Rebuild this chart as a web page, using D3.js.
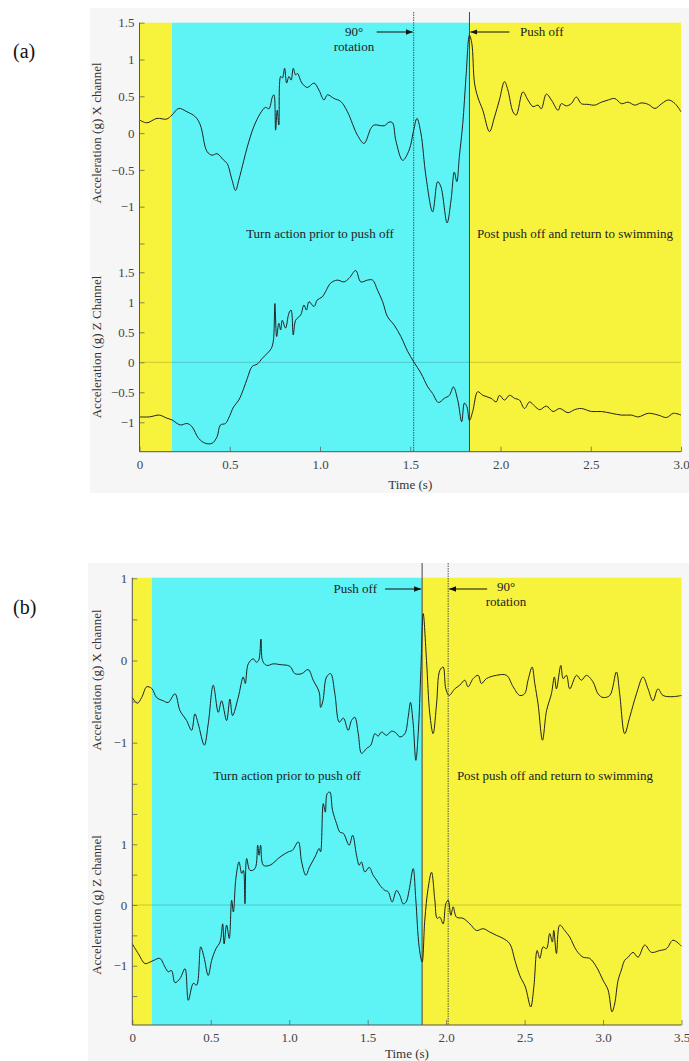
<!DOCTYPE html>
<html lang="en">
<head>
<meta charset="utf-8">
<title>Turn and push off acceleration</title>
<script src="https://cdn.jsdelivr.net/npm/d3@7"></script>
<style>
  body { margin: 0; background: #fff; }
  svg text { font-family: "Liberation Serif", "Times New Roman", Times, "DejaVu Serif", serif; fill: #333; }
  .axis path { display: none; }
  .axis line { stroke: #666; stroke-width: 0.8px; }
  .axis text { font-size: 13px; fill: #444; }
  .trace { fill: none; stroke: #222; stroke-width: 1px; stroke-linejoin: round; }
</style>
</head>
<body>
<svg id="vis" width="689" height="1061"></svg>
<script>
// ---- data: (a) ----
var aXt = [0, 0.04, 0.097, 0.15, 0.18, 0.217, 0.263, 0.31, 0.337, 0.374, 0.402, 0.43, 0.467, 0.485, 0.513, 0.532, 0.55, 0.578, 0.597, 0.633, 0.67, 0.698, 0.717, 0.736, 0.745, 0.754, 0.763, 0.772, 0.782, 0.792, 0.804, 0.815, 0.828, 0.84, 0.852, 0.865, 0.875, 0.9, 0.93, 0.967, 0.994, 1.022, 1.041, 1.078, 1.115, 1.152, 1.208, 1.244, 1.282, 1.3, 1.356, 1.383, 1.402, 1.42, 1.458, 1.494, 1.519, 1.537, 1.559, 1.587, 1.624, 1.652, 1.67, 1.704, 1.726, 1.744, 1.758, 1.772, 1.791, 1.809, 1.828, 1.841, 1.856, 1.874, 1.902, 1.939, 1.967, 1.994, 2.022, 2.041, 2.069, 2.087, 2.124, 2.152, 2.18, 2.208, 2.226, 2.254, 2.282, 2.319, 2.337, 2.365, 2.392, 2.42, 2.448, 2.485, 2.522, 2.559, 2.597, 2.633, 2.67, 2.707, 2.744, 2.78, 2.819, 2.856, 2.893, 2.93, 2.967, 3.0];
var aXv = [0.18, 0.14, 0.2, 0.19, 0.245, 0.335, 0.29, 0.22, 0.11, -0.25, -0.3, -0.28, -0.37, -0.41, -0.64, -0.78, -0.64, -0.37, -0.19, 0.086, 0.27, 0.35, 0.33, 0.49, 0.52, 0.04, 0.31, 0.11, 0.77, 0.75, 0.88, 0.68, 0.77, 0.72, 0.88, 0.79, 0.81, 0.68, 0.62, 0.68, 0.585, 0.45, 0.52, 0.47, 0.43, 0.29, -0.03, -0.14, 0.065, 0.11, 0.1, 0.15, 0.14, -0.1, -0.37, -0.23, 0.04, 0.2, 0, -0.59, -1.07, -0.66, -0.73, -1.22, -0.91, -0.53, -0.66, -0.32, 0.13, 0.77, 1.33, 1.22, 0.68, 0.49, 0.31, 0.02, 0.22, 0.45, 0.7, 0.585, 0.29, 0.245, 0.56, 0.45, 0.36, 0.38, 0.33, 0.53, 0.45, 0.31, 0.4, 0.37, 0.4, 0.49, 0.4, 0.39, 0.38, 0.42, 0.45, 0.47, 0.4, 0.42, 0.38, 0.41, 0.39, 0.335, 0.4, 0.45, 0.4, 0.29];
var aZt = [0, 0.055, 0.11, 0.15, 0.18, 0.226, 0.263, 0.29, 0.328, 0.365, 0.402, 0.43, 0.448, 0.476, 0.494, 0.522, 0.55, 0.578, 0.597, 0.624, 0.652, 0.68, 0.708, 0.73, 0.742, 0.75, 0.76, 0.772, 0.782, 0.791, 0.809, 0.828, 0.84, 0.852, 0.865, 0.893, 0.911, 0.925, 0.939, 0.967, 0.985, 1.013, 1.031, 1.059, 1.096, 1.133, 1.161, 1.198, 1.226, 1.263, 1.291, 1.319, 1.347, 1.374, 1.411, 1.448, 1.486, 1.519, 1.559, 1.597, 1.624, 1.656, 1.689, 1.717, 1.739, 1.763, 1.785, 1.8, 1.814, 1.828, 1.846, 1.874, 1.902, 1.948, 1.976, 1.994, 2.022, 2.05, 2.078, 2.105, 2.133, 2.161, 2.189, 2.217, 2.254, 2.291, 2.328, 2.374, 2.41, 2.448, 2.504, 2.559, 2.615, 2.67, 2.726, 2.763, 2.819, 2.874, 2.92, 2.958, 3.0];
var aZv = [-0.91, -0.91, -0.88, -0.93, -0.96, -1.045, -1.02, -1.07, -1.27, -1.35, -1.35, -1.24, -1.045, -1.02, -0.93, -0.74, -0.63, -0.43, -0.27, -0.07, -0.03, 0.065, 0.15, 0.23, 0.37, 0.98, 0.43, 0.65, 0.54, 0.7, 0.57, 0.82, 0.87, 0.455, 0.7, 0.79, 0.955, 0.87, 1.01, 0.93, 1.04, 1.09, 1.18, 1.32, 1.37, 1.34, 1.4, 1.53, 1.34, 1.37, 1.37, 1.2, 1.01, 0.76, 0.62, 0.43, 0.18, 0.01, -0.18, -0.41, -0.52, -0.67, -0.6, -0.55, -0.41, -0.63, -0.99, -0.68, -0.74, -0.97, -0.82, -0.49, -0.55, -0.6, -0.66, -0.55, -0.63, -0.55, -0.6, -0.63, -0.77, -0.66, -0.73, -0.79, -0.73, -0.82, -0.77, -0.84, -0.79, -0.77, -0.82, -0.82, -0.85, -0.88, -0.88, -0.91, -0.85, -0.88, -0.92, -0.85, -0.88];

// ---- data: (b) ----
var bXt = [0, 0.032, 0.06, 0.092, 0.124, 0.155, 0.197, 0.229, 0.272, 0.304, 0.346, 0.378, 0.399, 0.42, 0.459, 0.484, 0.516, 0.548, 0.569, 0.601, 0.622, 0.639, 0.675, 0.707, 0.72, 0.739, 0.771, 0.79, 0.805, 0.82, 0.83, 0.856, 0.9, 0.941, 1.004, 1.036, 1.08, 1.121, 1.153, 1.191, 1.2, 1.215, 1.238, 1.264, 1.291, 1.319, 1.345, 1.376, 1.397, 1.418, 1.44, 1.461, 1.493, 1.52, 1.546, 1.567, 1.588, 1.62, 1.652, 1.68, 1.705, 1.737, 1.758, 1.773, 1.79, 1.807, 1.822, 1.839, 1.854, 1.875, 1.896, 1.917, 1.939, 1.96, 1.981, 1.998, 2.019, 2.055, 2.087, 2.119, 2.14, 2.172, 2.204, 2.225, 2.257, 2.321, 2.385, 2.427, 2.469, 2.5, 2.522, 2.548, 2.565, 2.586, 2.614, 2.64, 2.671, 2.69, 2.703, 2.731, 2.746, 2.767, 2.788, 2.831, 2.862, 2.894, 2.936, 2.968, 3.0, 3.043, 3.085, 3.106, 3.138, 3.17, 3.213, 3.255, 3.287, 3.318, 3.35, 3.382, 3.446, 3.5];
var bXv = [-0.45, -0.52, -0.45, -0.32, -0.34, -0.45, -0.49, -0.51, -0.405, -0.61, -0.73, -0.85, -0.65, -0.77, -1.03, -0.77, -0.3, -0.63, -0.49, -0.73, -0.47, -0.67, -0.45, -0.2, -0.28, -0.04, 0.02, -0.02, 0, 0.26, 0, -0.06, -0.04, -0.05, -0.07, -0.16, -0.16, -0.11, -0.24, -0.385, -0.57, -0.49, -0.2, -0.16, -0.405, -0.75, -0.7, -0.85, -0.73, -0.69, -0.89, -1.13, -1.07, -1.03, -0.89, -0.92, -0.87, -0.91, -0.86, -0.88, -0.93, -0.89, -0.69, -0.51, -0.77, -1.215, -0.89, -0.12, 0.57, 0, -0.65, -0.89, -0.53, -0.12, -0.08, -0.345, -0.425, -0.345, -0.3, -0.24, -0.32, -0.22, -0.18, -0.28, -0.22, -0.18, -0.18, -0.32, -0.425, -0.405, -0.24, -0.08, -0.28, -0.53, -0.97, -0.61, -0.405, -0.2, -0.345, -0.06, -0.22, -0.18, -0.345, -0.18, -0.24, -0.18, -0.26, -0.405, -0.45, -0.425, -0.14, -0.405, -0.89, -0.69, -0.405, -0.2, -0.345, -0.49, -0.345, -0.425, -0.44, -0.425];
var bZt = [0, 0.038, 0.081, 0.113, 0.138, 0.176, 0.208, 0.229, 0.25, 0.272, 0.304, 0.336, 0.357, 0.389, 0.41, 0.436, 0.457, 0.484, 0.506, 0.533, 0.559, 0.576, 0.585, 0.601, 0.618, 0.633, 0.644, 0.66, 0.68, 0.697, 0.708, 0.718, 0.729, 0.75, 0.782, 0.799, 0.808, 0.818, 0.835, 0.877, 0.941, 0.994, 1.02, 1.058, 1.079, 1.106, 1.13, 1.164, 1.191, 1.2, 1.217, 1.23, 1.242, 1.259, 1.276, 1.302, 1.323, 1.345, 1.382, 1.404, 1.429, 1.446, 1.46, 1.482, 1.51, 1.535, 1.557, 1.578, 1.61, 1.63, 1.656, 1.684, 1.705, 1.726, 1.745, 1.764, 1.79, 1.807, 1.828, 1.847, 1.864, 1.885, 1.907, 1.928, 1.943, 1.96, 1.981, 1.998, 2.013, 2.03, 2.045, 2.066, 2.108, 2.151, 2.194, 2.236, 2.278, 2.321, 2.363, 2.406, 2.438, 2.469, 2.505, 2.539, 2.559, 2.58, 2.597, 2.618, 2.64, 2.66, 2.677, 2.686, 2.703, 2.724, 2.756, 2.788, 2.831, 2.873, 2.915, 2.958, 3.0, 3.032, 3.057, 3.074, 3.096, 3.117, 3.138, 3.16, 3.191, 3.223, 3.266, 3.308, 3.361, 3.404, 3.446, 3.5];
var bZv = [-0.64, -0.8, -0.965, -0.94, -0.91, -0.88, -1.02, -1.1, -1.08, -1.28, -1.21, -1.05, -1.57, -1.29, -1.32, -0.69, -0.86, -1.16, -0.91, -0.72, -0.61, -0.31, -0.64, -0.33, -0.55, 0.08, -0.115, 0.435, 0.71, 0.52, 0.57, 0.02, 0.765, 0.57, 0.6, 0.985, 0.82, 0.985, 0.655, 0.655, 0.79, 0.875, 0.9, 1.04, 0.71, 0.49, 0.63, 0.79, 0.93, 0.875, 1.67, 1.53, 1.835, 1.86, 1.56, 1.34, 1.2, 1.18, 0.985, 1.15, 0.82, 0.655, 0.71, 0.545, 0.62, 0.49, 0.41, 0.325, 0.24, 0.22, 0.05, 0.24, 0.16, 0.02, 0.05, 0.24, 0.6, 0.08, -0.69, -0.94, -0.25, 0.27, 0.54, 0.08, -0.22, -0.2, -0.31, 0.02, 0.08, -0.17, -0.03, -0.2, -0.22, -0.31, -0.42, -0.39, -0.445, -0.5, -0.55, -0.64, -0.91, -1.16, -1.35, -1.68, -1.35, -0.75, -0.88, -0.69, -0.72, -0.47, -0.61, -0.42, -0.8, -0.33, -0.42, -0.53, -0.75, -0.86, -0.88, -1.02, -1.24, -1.4, -1.76, -1.63, -1.24, -1.07, -0.91, -0.86, -0.78, -0.86, -0.66, -0.78, -0.75, -0.72, -0.58, -0.68];

// phases and events (s)
var aTurnStart = 0.18, aPushOff = 1.828, aRotation = 1.519;
var bTurnStart = 0.124, bPushOff = 1.847, bRotation = 2.013;

// ticks
var aTimeTicks = [0, 0.5, 1.0, 1.5, 2.0, 2.5, 3.0];
var bTimeTicks = [0, 0.5, 1.0, 1.5, 2.0, 2.5, 3.0, 3.5];
var aXTicks = [1.5, 1, 0.5, 0, -0.5, -1, -1.5], aXLabels = [1.5, 1, 0.5, 0, -0.5, -1];
var aZTicks = [1.5, 1, 0.5, 0, -0.5, -1], aZLabels = [1.5, 1, 0.5, 0, -0.5, -1];
var bXTicks = [1, 0.5, 0, -0.5, -1, -1.5], bXLabels = [1, 0, -1];
var bZTicks = [1.5, 1, 0.5, 0, -0.5, -1, -1.5], bZLabels = [1, 0, -1];

var svg = d3.select("#vis");

var defs = svg.append("defs");
defs.append("marker")
    .attr("id", "head")
    .attr("viewBox", "0 0 10 10")
    .attr("refX", 10).attr("refY", 5)
    .attr("markerWidth", 7).attr("markerHeight", 7)
    .attr("markerUnits", "userSpaceOnUse")
    .attr("orient", "auto")
  .append("path")
    .attr("d", "M0,1 L10,5 L0,9 Z")
    .attr("fill", "#111");

var fmtY = function(d) { return d < 0 ? "\u2212" + Math.abs(d) : "" + d; };

function drawPanel(p) {
  var g = svg.append("g");

  g.append("rect")
      .attr("x", p.bg[0]).attr("y", p.bg[1])
      .attr("width", p.bg[2]).attr("height", p.bg[3])
      .attr("fill", "#f6f6f6");

  var x = d3.scaleLinear().domain(p.tDomain).range([p.left, p.right]);
  var yX = d3.scaleLinear().domain([-1, p.xTop]).range(p.xRange);
  var yZ = d3.scaleLinear().domain([-1, p.zTop]).range(p.zRange);

  // phase bands
  var bands = [
    [p.tDomain[0], p.turnStart, "#f7f23b"],
    [p.turnStart, p.pushOff, "#5ef3f5"],
    [p.pushOff, p.tDomain[1], "#f7f23b"]
  ];
  g.selectAll("rect.band")
    .data(bands)
    .enter().append("rect")
      .attr("class", "band")
      .attr("x", function(d) { return x(d[0]); })
      .attr("width", function(d) { return x(d[1]) - x(d[0]); })
      .attr("y", p.top)
      .attr("height", p.bottom - p.top)
      .attr("fill", function(d) { return d[2]; });

  // Z zero line
  g.append("line")
      .attr("x1", p.left).attr("x2", p.right)
      .attr("y1", yZ(0)).attr("y2", yZ(0))
      .attr("stroke", "#000").attr("stroke-opacity", 0.22).attr("stroke-width", 0.8);

  // event lines
  g.append("line")
      .attr("x1", x(p.pushOff)).attr("x2", x(p.pushOff))
      .attr("y1", p.eventTop).attr("y2", p.bottom)
      .attr("stroke", "#444").attr("stroke-width", 1);
  g.append("line")
      .attr("x1", x(p.rotation)).attr("x2", x(p.rotation))
      .attr("y1", p.eventTop).attr("y2", p.bottom)
      .attr("stroke", "#444").attr("stroke-width", 0.9)
      .attr("stroke-dasharray", "1.5,1");

  // traces
  var curve = d3.curveCatmullRom.alpha(0.5);
  var lineX = d3.line().curve(curve).x(function(d) { return x(d[0]); }).y(function(d) { return yX(d[1]); });
  var lineZ = d3.line().curve(curve).x(function(d) { return x(d[0]); }).y(function(d) { return yZ(d[1]); });
  g.append("path").attr("class", "trace").attr("d", lineX(d3.zip(p.xt, p.xv)));
  g.append("path").attr("class", "trace").attr("d", lineZ(d3.zip(p.zt, p.zv)));

  // axes
  g.append("g").attr("class", "axis")
      .attr("transform", "translate(" + p.left + ",0)")
      .call(d3.axisLeft(yX).tickValues(p.xTicks).tickSize(-5).tickPadding(5)
        .tickFormat(function(d) { return p.xLabels.indexOf(d) >= 0 ? fmtY(d) : ""; }));
  g.append("g").attr("class", "axis")
      .attr("transform", "translate(" + p.left + ",0)")
      .call(d3.axisLeft(yZ).tickValues(p.zTicks).tickSize(-5).tickPadding(5)
        .tickFormat(function(d) { return p.zLabels.indexOf(d) >= 0 ? fmtY(d) : ""; }));
  g.append("g").attr("class", "axis")
      .attr("transform", "translate(0," + p.bottom + ")")
      .call(d3.axisBottom(x).tickValues(p.timeTicks).tickSize(-5).tickPadding(8)
        .tickFormat(function(d) { return d === 0 ? "0" : d3.format(".1f")(d); }));

  g.append("line")
      .attr("x1", p.left).attr("x2", p.left)
      .attr("y1", p.top).attr("y2", p.bottom)
      .attr("stroke", "#555").attr("stroke-width", 1);
  g.append("line")
      .attr("x1", p.left).attr("x2", p.right)
      .attr("y1", p.bottom).attr("y2", p.bottom)
      .attr("stroke", "#555").attr("stroke-width", 1);

  // axis titles
  g.append("text")
      .attr("transform", "translate(101," + p.xTitleY + ") rotate(-90)")
      .attr("text-anchor", "middle").style("font-size", "13px")
      .text("Acceleration (g) X channel");
  g.append("text")
      .attr("transform", "translate(101," + p.zTitleY + ") rotate(-90)")
      .attr("text-anchor", "middle").style("font-size", "13px")
      .text(p.zTitle);
  g.append("text")
      .attr("x", (p.left + p.right) / 2).attr("y", p.timeTitleY)
      .attr("text-anchor", "middle").style("font-size", "13px")
      .text("Time (s)");

  // panel letter
  g.append("text")
      .attr("x", 13).attr("y", p.letterY)
      .style("font-size", "20px").style("fill", "#111")
      .text(p.letter);

  // phase labels
  g.append("text")
      .attr("x", p.turnLabel[0]).attr("y", p.turnLabel[1])
      .attr("text-anchor", "middle").style("font-size", "13px").style("fill", "#222")
      .text("Turn action prior to push off");
  g.append("text")
      .attr("x", p.postLabel[0]).attr("y", p.postLabel[1])
      .attr("text-anchor", "middle").style("font-size", "13px").style("fill", "#222")
      .text("Post push off and return to swimming");

  // event annotations with arrows
  p.notes.forEach(function(n) {
    var ex = x(n.t);
    var tip = n.side === "left" ? ex - 1 : ex + 1;
    var tail = n.side === "left" ? ex - n.len : ex + n.len;
    g.append("line")
        .attr("x1", tail).attr("x2", tip)
        .attr("y1", n.y).attr("y2", n.y)
        .attr("stroke", "#111").attr("stroke-width", 1.2)
        .attr("marker-end", "url(#head)");
    n.lines.forEach(function(s, i) {
      g.append("text")
          .attr("x", n.tx).attr("y", n.ty + i * 15)
          .attr("text-anchor", n.anchor)
          .style("font-size", "13px").style("fill", "#222")
          .text(s);
    });
  });
}

drawPanel({
  letter: "(a)", letterY: 58,
  bg: [90, 8, 599, 485],
  tDomain: [0, 3], left: 139.5, right: 681, top: 22.7, bottom: 451.7, eventTop: 12,
  xTop: 1.5, xRange: [206.7, 22.7], zTop: 1.5, zRange: [422.3, 272.3],
  turnStart: aTurnStart, pushOff: aPushOff, rotation: aRotation,
  xt: aXt, xv: aXv, zt: aZt, zv: aZv,
  xTicks: aXTicks, xLabels: aXLabels, zTicks: aZTicks, zLabels: aZLabels, timeTicks: aTimeTicks,
  zTitle: "Acceleration (g) Z Channel", xTitleY: 133, zTitleY: 347, timeTitleY: 489,
  turnLabel: [320, 238], postLabel: [575, 238],
  notes: [
    { t: aRotation, side: "left", len: 37, y: 32, lines: ["90\u00b0", "rotation"], tx: 354, ty: 36, anchor: "middle" },
    { t: aPushOff, side: "right", len: 40, y: 32, lines: ["Push off"], tx: 520, ty: 36, anchor: "start" }
  ]
});

drawPanel({
  letter: "(b)", letterY: 614,
  bg: [88, 563, 601, 498],
  tDomain: [0, 3.5], left: 132.3, right: 681.5, top: 577.7, bottom: 1025, eventTop: 563,
  xTop: 1, xRange: [742.7, 578.3], zTop: 1, zRange: [965.7, 844.3],
  turnStart: bTurnStart, pushOff: bPushOff, rotation: bRotation,
  xt: bXt, xv: bXv, zt: bZt, zv: bZv,
  xTicks: bXTicks, xLabels: bXLabels, zTicks: bZTicks, zLabels: bZLabels, timeTicks: bTimeTicks,
  zTitle: "Acceleration (g) Z channel", xTitleY: 680, zTitleY: 905, timeTitleY: 1058,
  turnLabel: [287, 780], postLabel: [555, 780],
  notes: [
    { t: bPushOff, side: "left", len: 37, y: 589, lines: ["Push off"], tx: 377, ty: 593, anchor: "end" },
    { t: bRotation, side: "right", len: 39, y: 589, lines: ["90\u00b0", "rotation"], tx: 506, ty: 591, anchor: "middle" }
  ]
});
</script>
</body>
</html>
